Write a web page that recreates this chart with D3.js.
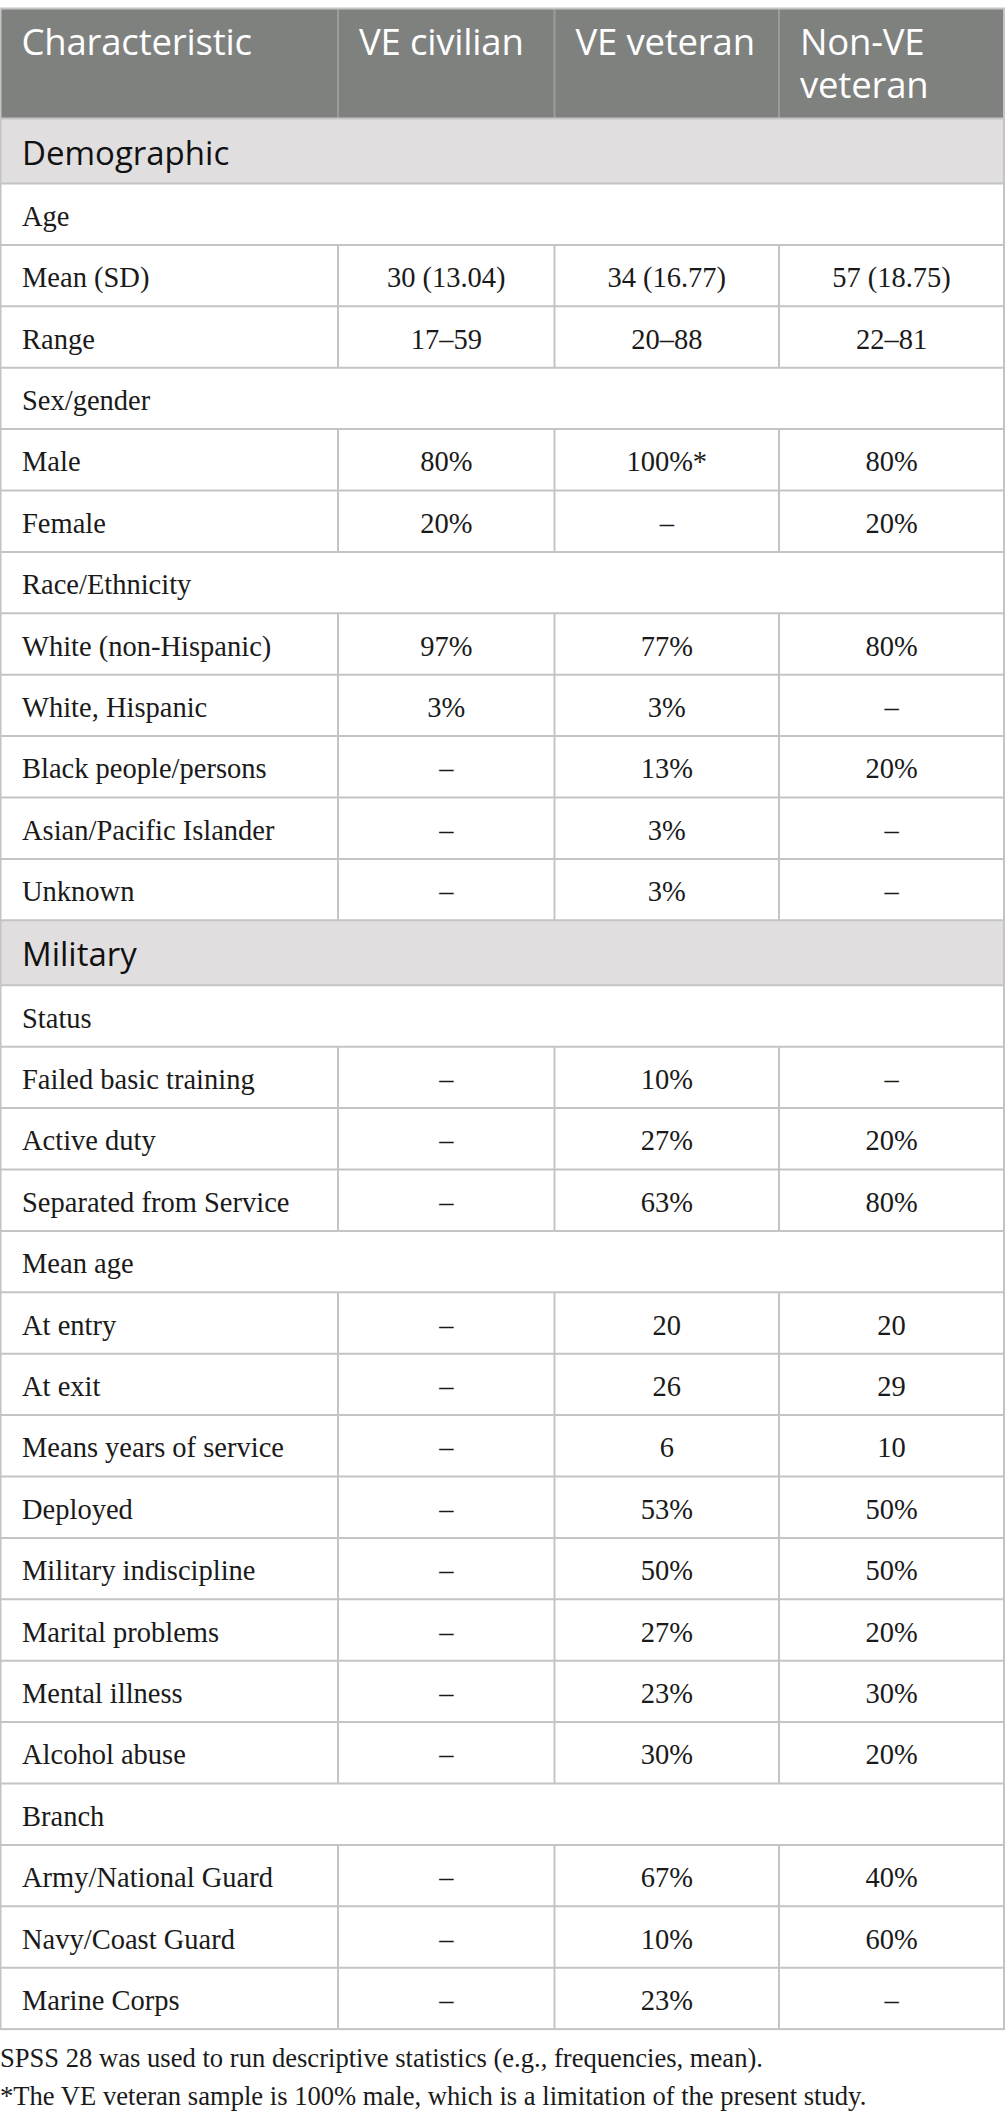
<!DOCTYPE html>
<html>
<head>
<meta charset="utf-8">
<script src="https://cdn.jsdelivr.net/npm/d3@7"></script>
<style>
  html, body { margin: 0; padding: 0; background: #ffffff; }
  svg { display: block; }
</style>
</head>
<body>
<div id="chart"></div>
<script>
// ---------------- DATA ----------------
const columns = ["Characteristic", "VE civilian", "VE veteran", "Non-VE veteran"];

const rowLabels = [
  "Demographic",
  "Age", "Mean (SD)", "Range",
  "Sex/gender", "Male", "Female",
  "Race/Ethnicity", "White (non-Hispanic)", "White, Hispanic", "Black people/persons",
  "Asian/Pacific Islander", "Unknown",
  "Military",
  "Status", "Failed basic training", "Active duty", "Separated from Service",
  "Mean age", "At entry", "At exit", "Means years of service",
  "Deployed", "Military indiscipline", "Marital problems", "Mental illness", "Alcohol abuse",
  "Branch", "Army/National Guard", "Navy/Coast Guard", "Marine Corps"
];

// section = shaded band, group = sub-heading row, value = data row
const rowKinds = [
  "section",
  "group", "value", "value",
  "group", "value", "value",
  "group", "value", "value", "value", "value", "value",
  "section",
  "group", "value", "value", "value",
  "group", "value", "value", "value",
  "value", "value", "value", "value", "value",
  "group", "value", "value", "value"
];

const veCivilian = [
  "",
  "", "30 (13.04)", "17–59",
  "", "80%", "20%",
  "", "97%", "3%", "–", "–", "–",
  "",
  "", "–", "–", "–",
  "", "–", "–", "–",
  "–", "–", "–", "–", "–",
  "", "–", "–", "–"
];

const veVeteran = [
  "",
  "", "34 (16.77)", "20–88",
  "", "100%*", "–",
  "", "77%", "3%", "13%", "3%", "3%",
  "",
  "", "10%", "27%", "63%",
  "", "20", "26", "6",
  "53%", "50%", "27%", "23%", "30%",
  "", "67%", "10%", "23%"
];

const nonVeVeteran = [
  "",
  "", "57 (18.75)", "22–81",
  "", "80%", "20%",
  "", "80%", "–", "20%", "–", "–",
  "",
  "", "–", "20%", "80%",
  "", "20", "29", "10",
  "50%", "50%", "20%", "30%", "20%",
  "", "40%", "60%", "–"
];

const notes = [
  "SPSS 28 was used to run descriptive statistics (e.g., frequencies, mean).",
  "*The VE veteran sample is 100% male, which is a limitation of the present study."
];

// ---------------- LAYOUT ----------------
const W = 1005, H = 2125;
const tableTop = 8.5, headerH = 110, sectionH = 65, rowH = 61.4;
const colEdges = [0.5, 338, 554.5, 779, 1004];

const svg = d3.select("#chart").append("svg")
  .attr("width", W).attr("height", H)
  .attr("viewBox", `0 0 ${W} ${H}`);

svg.append("rect").attr("width", W).attr("height", H).attr("fill", "#ffffff");

// column scales
const xLeft = d3.scaleOrdinal().domain(d3.range(4)).range(colEdges.slice(0, 4));
const xRight = d3.scaleOrdinal().domain(d3.range(4)).range(colEdges.slice(1));
const xCenter = i => (xLeft(i) + xRight(i)) / 2;

// row scale (cumulative heights)
const heights = rowKinds.map(k => k === "section" ? sectionH : rowH);
const tops = [tableTop + headerH];
heights.forEach((h, i) => tops.push(tops[i] + h));
const yTop = d3.scaleOrdinal().domain(d3.range(rowLabels.length + 1)).range(tops);
const tableBottom = tops[tops.length - 1];

const sans = "'Open Sans', 'Noto Sans', sans-serif";
const serif = "'Liberation Serif', 'DejaVu Serif', serif";
const gridColor = "#c4c4c4";

// ---------- header ----------
const header = svg.append("g").attr("class", "header");
header.append("rect")
  .attr("x", colEdges[0]).attr("y", tableTop)
  .attr("width", colEdges[4] - colEdges[0]).attr("height", headerH)
  .attr("fill", "#7f817f");

header.selectAll("line.hsep")
  .data(d3.range(1, 4))
  .join("line")
  .attr("class", "hsep")
  .attr("x1", d => xLeft(d)).attr("x2", d => xLeft(d))
  .attr("y1", tableTop).attr("y2", tableTop + headerH)
  .attr("stroke", "#9a9c9a").attr("stroke-width", 2);

const headerLines = [];
columns.forEach((c, i) => {
  const parts = c === "Non-VE veteran" ? ["Non-VE", "veteran"] : [c];
  parts.forEach((l, k) => headerLines.push({ i, k, l }));
});
header.selectAll("text.htext")
  .data(headerLines)
  .join("text")
  .attr("class", "htext")
  .attr("x", d => xLeft(d.i) + 21)
  .attr("y", d => tableTop + 46.5 + d.k * 43)
  .attr("fill", "#ffffff")
  .attr("font-family", sans)
  .attr("font-size", 36.5)
  .style("letter-spacing", "-0.2px")
  .text(d => d.l);

// ---------- body ----------
const body = svg.append("g").attr("class", "body");
const rows = rowLabels.map((label, i) => ({
  i, label, kind: rowKinds[i],
  vals: [veCivilian[i], veVeteran[i], nonVeVeteran[i]]
}));

// section backgrounds
body.selectAll("rect.section")
  .data(rows.filter(r => r.kind === "section"))
  .join("rect")
  .attr("class", "section")
  .attr("x", colEdges[0]).attr("y", d => yTop(d.i))
  .attr("width", colEdges[4] - colEdges[0]).attr("height", d => heights[d.i])
  .attr("fill", "#e0dedf");

// horizontal grid lines
body.selectAll("line.hgrid")
  .data(d3.range(0, rowLabels.length))
  .join("line")
  .attr("class", "hgrid")
  .attr("x1", colEdges[0]).attr("x2", colEdges[4])
  .attr("y1", d => yTop(d)).attr("y2", d => yTop(d))
  .attr("stroke", gridColor).attr("stroke-width", 2);

// vertical grid lines for value rows
const vData = [];
rows.filter(r => r.kind === "value").forEach(r => {
  [1, 2, 3].forEach(c => vData.push({ r: r.i, c }));
});
body.selectAll("line.vgrid")
  .data(vData)
  .join("line")
  .attr("class", "vgrid")
  .attr("x1", d => xLeft(d.c)).attr("x2", d => xLeft(d.c))
  .attr("y1", d => yTop(d.r)).attr("y2", d => yTop(d.r + 1))
  .attr("stroke", gridColor).attr("stroke-width", 2);

// labels
body.selectAll("text.label")
  .data(rows)
  .join("text")
  .attr("class", "label")
  .attr("x", 22)
  .attr("y", d => yTop(d.i) + heights[d.i] / 2 + (d.kind === "section" ? 13.5 : 11.5))
  .attr("fill", d => d.kind === "section" ? "#111111" : "#1a1a1a")
  .attr("font-family", d => d.kind === "section" ? sans : serif)
  .attr("font-size", d => d.kind === "section" ? 33 : 28.5)
  .attr("font-weight", d => d.kind === "section" ? 500 : 400)
  .text(d => d.label);

// values
const vals = [];
rows.filter(r => r.kind === "value").forEach(r => {
  r.vals.forEach((v, k) => vals.push({ r: r.i, c: k + 1, v }));
});
body.selectAll("text.val")
  .data(vals)
  .join("text")
  .attr("class", "val")
  .attr("x", d => xCenter(d.c))
  .attr("y", d => yTop(d.r) + heights[d.r] / 2 + 11.5)
  .attr("text-anchor", "middle")
  .attr("fill", "#1a1a1a")
  .attr("font-family", serif)
  .attr("font-size", 28.5)
  .text(d => d.v);

// outer border
svg.append("rect")
  .attr("x", colEdges[0]).attr("y", tableTop)
  .attr("width", colEdges[4] - colEdges[0]).attr("height", tableBottom - tableTop)
  .attr("fill", "none").attr("stroke", gridColor).attr("stroke-width", 2);

// ---------- notes ----------
svg.selectAll("text.note")
  .data(notes)
  .join("text")
  .attr("class", "note")
  .attr("x", 0)
  .attr("y", (d, i) => 2066.5 + i * 38.5)
  .attr("fill", "#1a1a1a")
  .attr("font-family", serif)
  .attr("font-size", 26.6)
  .text(d => d);
</script>
</body>
</html>
